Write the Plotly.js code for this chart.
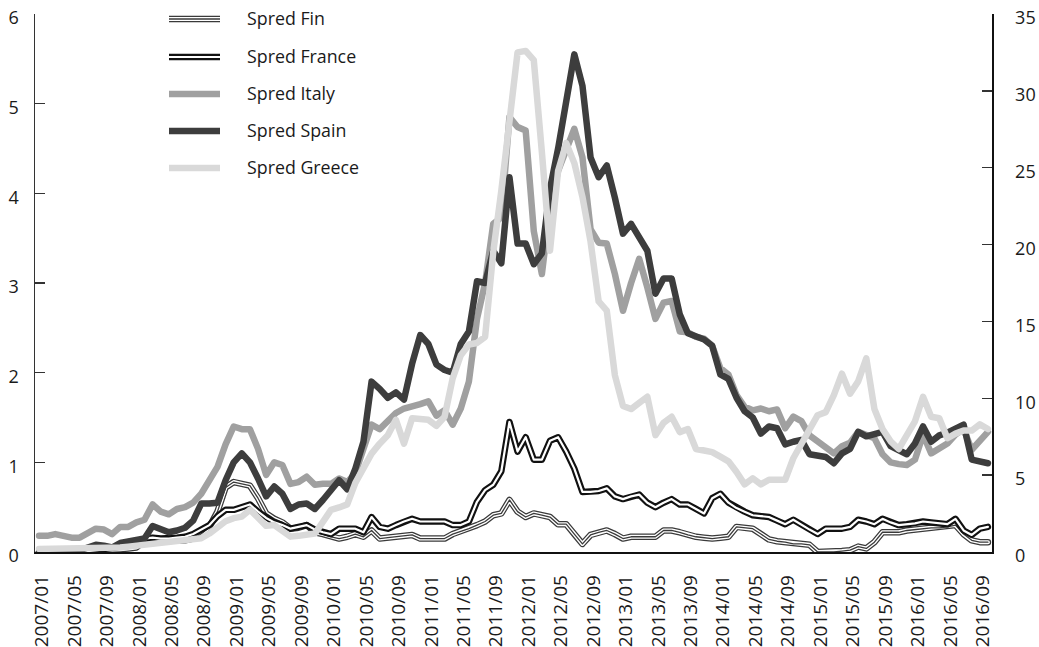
<!DOCTYPE html>
<html>
<head>
<meta charset="utf-8">
<script src="https://cdn.plot.ly/plotly-3.0.1.min.js"></script>
<style>
html, body { margin: 0; padding: 0; background: #fff; }
#chart { width: 1039px; height: 647px; }
path.js-line { stroke-linejoin: round !important; stroke-linecap: round !important; }
</style>
</head>
<body>
<div id="chart"></div>
<script>
// Monthly categories 2007/01 .. 2016/10
const months = [];
for (let y = 2007; y <= 2016; y++) {
  for (let m = 1; m <= 12; m++) {
    if (y === 2016 && m > 10) break;
    months.push(y + '/' + (m < 10 ? '0' + m : m));
  }
}
const tickLabels = months.filter((_, i) => i % 4 === 0);

const seriesNames = ['Spred Fin', 'Spred France', 'Spred Italy', 'Spred Spain', 'Spred Greece'];

const spredFin = [
  0.0,0.0,0.0,0.0,0.0,0.0,0.01,0.02,0.02,0.02,0.03,0.04,
  0.05,0.12,0.13,0.12,0.12,0.12,0.13,0.15,0.2,0.28,0.45,0.72,
  0.78,0.76,0.74,0.6,0.43,0.37,0.33,0.26,0.27,0.3,0.22,0.2,
  0.17,0.15,0.17,0.2,0.17,0.24,0.15,0.16,0.17,0.18,0.19,0.15,
  0.15,0.15,0.15,0.2,0.23,0.26,0.3,0.34,0.41,0.43,0.58,0.45,
  0.39,0.43,0.41,0.39,0.31,0.31,0.2,0.09,0.19,0.22,0.24,0.2,
  0.15,0.17,0.17,0.17,0.17,0.24,0.24,0.22,0.19,0.17,0.16,0.15,
  0.16,0.17,0.28,0.27,0.26,0.2,0.14,0.12,0.11,0.09,0.09,0.08,
  0.0,0.0,0.0,0.01,0.02,0.06,0.04,0.11,0.22,0.22,0.22,0.24,
  0.25,0.26,0.27,0.27,0.28,0.3,0.2,0.13,0.11,0.11
];

const spredFrance = [
  0.0,0.0,0.0,0.0,0.0,0.0,0.01,0.02,0.03,0.05,0.06,0.08,
  0.08,0.15,0.16,0.15,0.15,0.16,0.17,0.2,0.25,0.3,0.4,0.47,
  0.47,0.5,0.53,0.45,0.38,0.33,0.3,0.26,0.28,0.3,0.25,0.22,
  0.2,0.26,0.26,0.26,0.22,0.39,0.28,0.26,0.3,0.34,0.37,0.34,
  0.34,0.34,0.34,0.3,0.3,0.34,0.56,0.69,0.75,0.9,1.45,1.12,
  1.28,1.03,1.03,1.24,1.28,1.12,0.93,0.67,0.67,0.68,0.71,0.62,
  0.59,0.62,0.64,0.55,0.5,0.55,0.59,0.53,0.53,0.48,0.43,0.6,
  0.65,0.55,0.49,0.45,0.41,0.4,0.39,0.35,0.31,0.36,0.3,0.25,
  0.2,0.26,0.26,0.26,0.28,0.36,0.34,0.31,0.37,0.33,0.3,0.31,
  0.32,0.34,0.33,0.32,0.31,0.37,0.24,0.19,0.26,0.28
];

const spredItaly = [
  0.18,0.18,0.2,0.18,0.16,0.16,0.22,0.26,0.25,0.2,0.28,0.28,
  0.33,0.36,0.53,0.45,0.42,0.48,0.5,0.55,0.65,0.8,0.95,1.2,
  1.4,1.37,1.37,1.15,0.86,1.0,0.97,0.76,0.78,0.84,0.75,0.76,
  0.76,0.82,0.78,0.88,1.15,1.42,1.37,1.45,1.55,1.6,1.62,1.65,
  1.68,1.52,1.58,1.42,1.6,1.9,2.6,3.0,3.66,3.73,4.85,4.74,
  4.7,3.58,3.1,3.85,4.25,4.48,4.72,4.4,3.6,3.45,3.44,3.1,
  2.69,3.0,3.27,2.95,2.6,2.78,2.8,2.46,2.45,2.4,2.38,2.3,
  2.05,1.98,1.75,1.62,1.58,1.6,1.57,1.59,1.38,1.51,1.46,1.3,
  1.23,1.15,1.1,1.18,1.22,1.34,1.3,1.27,1.09,1.0,0.98,0.97,
  1.03,1.31,1.1,1.15,1.21,1.31,1.37,1.14,1.24,1.34
];

const spredSpain = [
  0.0,0.0,0.0,0.0,0.0,0.02,0.05,0.08,0.07,0.05,0.1,0.12,
  0.13,0.15,0.29,0.26,0.22,0.24,0.27,0.35,0.54,0.54,0.55,0.8,
  1.0,1.1,1.0,0.82,0.62,0.73,0.65,0.48,0.53,0.54,0.48,0.58,
  0.68,0.8,0.7,0.93,1.23,1.9,1.82,1.72,1.78,1.7,2.1,2.42,
  2.32,2.09,2.03,2.0,2.32,2.46,3.02,3.0,3.36,3.22,4.18,3.44,
  3.44,3.21,3.33,4.05,4.5,5.0,5.55,5.2,4.4,4.18,4.31,3.95,
  3.55,3.66,3.5,3.36,2.88,3.05,3.05,2.65,2.44,2.4,2.37,2.3,
  1.98,1.93,1.72,1.57,1.5,1.32,1.4,1.38,1.2,1.23,1.25,1.09,
  1.07,1.06,0.99,1.1,1.15,1.34,1.29,1.32,1.34,1.18,1.14,1.09,
  1.21,1.4,1.23,1.3,1.33,1.37,1.42,1.03,1.01,0.99
];

const spredGreece = [
  0.2,0.2,0.2,0.2,0.2,0.2,0.2,0.25,0.3,0.3,0.3,0.35,
  0.4,0.5,0.6,0.55,0.6,0.65,0.7,0.8,0.9,1.2,1.6,2.0,
  2.2,2.3,2.75,2.2,1.7,1.75,1.4,1.0,1.05,1.1,1.2,1.96,
  2.74,2.9,3.1,4.5,5.4,6.4,7.05,7.6,8.6,7.05,8.7,8.7,
  8.6,8.2,8.8,11.3,12.8,13.5,13.6,14.0,19.5,23.5,28.0,32.5,
  32.6,32.0,26.0,19.6,24.8,26.6,25.3,23.1,20.2,16.3,15.7,11.5,
  9.5,9.3,9.7,10.1,7.6,8.4,8.8,7.8,8.0,6.7,6.6,6.5,
  6.2,5.9,5.2,4.4,4.8,4.4,4.7,4.7,4.7,6.1,7.0,8.0,
  8.9,9.1,10.2,11.6,10.3,11.1,12.6,9.3,8.0,7.2,6.7,7.6,
  8.5,10.1,8.8,8.7,7.4,7.7,7.9,7.9,8.3,8.0
];

// ---- styling ----
const FONT = 'Open Sans, Noto Sans, sans-serif';
const TXT = '#1a1a1a';
const C_ITALY = '#a0a0a0';
const C_SPAIN = '#3d3d3d';
const C_GREECE = '#d9d9d9';
const C_FRANCE = '#111111';
const C_FIN = '#3a3a3a';

function ln(y, color, width, yaxis) {
  return { x: months, y: y, type: 'scatter', mode: 'lines', yaxis: yaxis || 'y',
           line: { color: color, width: width, shape: 'linear' },
           hoverinfo: 'skip', showlegend: false };
}

const traces = [
  ln(spredFin, C_FIN, 6.5), ln(spredFin, '#ffffff', 4), ln(spredFin, C_FIN, 1.3),
  ln(spredFrance, C_FRANCE, 6.5), ln(spredFrance, '#ffffff', 2.2),
  ln(spredItaly, C_ITALY, 6.5),
  ln(spredSpain, C_SPAIN, 6.5),
  ln(spredGreece, C_GREECE, 6.5, 'y2')
];

// plot area in pixels: x 35..992, y 14..552
const PL = 35, PR = 992, PT = 14, PB = 552;
const px = v => (v - PL) / (PR - PL);
const py = v => (PB - v) / (PB - PT);

const legendRows = [19, 57, 94, 131, 168];
const legendStyles = [
  [[C_FIN, 6.5], ['#ffffff', 4], [C_FIN, 1.3]],
  [[C_FRANCE, 6.5], ['#ffffff', 2.2]],
  [[C_ITALY, 6.5]],
  [[C_SPAIN, 6.5]],
  [[C_GREECE, 6.5]]
];
const shapes = [];
const annotations = [];
legendRows.forEach((ry, k) => {
  legendStyles[k].forEach(([c, w]) => {
    shapes.push({ type: 'line', xref: 'paper', yref: 'paper', layer: 'above',
      x0: px(169), x1: px(220), y0: py(ry), y1: py(ry),
      line: { color: c, width: w } });
  });
  annotations.push({ xref: 'paper', yref: 'paper', x: px(245), y: py(ry - 1.5),
    xanchor: 'left', yanchor: 'middle', showarrow: false, text: seriesNames[k],
    font: { family: FONT, size: 17.8, color: TXT } });
});

const layout = {
  width: 1039, height: 647,
  margin: { l: PL, r: 1039 - PR, t: PT, b: 647 - PB, pad: 0 },
  paper_bgcolor: '#ffffff', plot_bgcolor: '#ffffff',
  showlegend: false,
  font: { family: FONT, size: 17, color: TXT },
  xaxis: {
    type: 'category', range: [-0.5, months.length - 0.5],
    tickmode: 'array', tickvals: tickLabels, ticktext: tickLabels,
    tickangle: -90, ticks: '', showgrid: false, zeroline: false,
    showline: true, linecolor: '#111', linewidth: 1.5,
    tickfont: { family: FONT, size: 19, color: TXT },
    ticklabelshift: 3, ticklabelstandoff: 14
  },
  yaxis: {
    range: [0, 6], tickmode: 'linear', tick0: 0, dtick: 1,
    ticks: 'inside', ticklen: 10, tickwidth: 1.5, tickcolor: '#333',
    showline: true, linecolor: '#333', linewidth: 1.5,
    showgrid: false, zeroline: false,
    tickfont: { family: FONT, size: 18, color: TXT },
    ticklabelshift: 4, ticklabelstandoff: 11
  },
  yaxis2: {
    overlaying: 'y', side: 'right', range: [0, 35], tickmode: 'linear', tick0: 0, dtick: 5,
    ticks: 'inside', ticklen: 10, tickwidth: 1.5, tickcolor: '#333',
    showline: true, linecolor: '#111', linewidth: 1.5,
    showgrid: false, zeroline: false,
    tickfont: { family: FONT, size: 18, color: TXT },
    ticklabelshift: 4, ticklabelstandoff: 18
  },
  shapes: shapes,
  annotations: annotations
};

Plotly.newPlot('chart', traces, layout, { staticPlot: true, displayModeBar: false });
</script>
</body>
</html>
